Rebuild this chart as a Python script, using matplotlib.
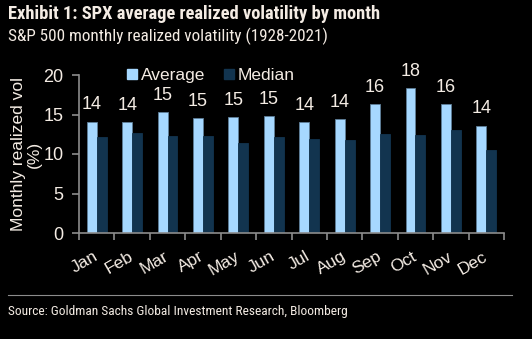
import numpy as np
import matplotlib
matplotlib.use("Agg")
import matplotlib.pyplot as plt
import matplotlib.transforms as mtrans
from matplotlib.lines import Line2D

months = ["Jan", "Feb", "Mar", "Apr", "May", "Jun",
          "Jul", "Aug", "Sep", "Oct", "Nov", "Dec"]
average = [14.1, 14.0, 15.35, 14.55, 14.7, 14.85,
           14.0, 14.45, 16.3, 18.3, 16.3, 13.6]
median = [12.2, 12.65, 12.25, 12.3, 11.4, 12.2,
          11.9, 11.75, 12.5, 12.4, 13.0, 10.5]

bg = "#000000"
txt = "#F4ECE4"
light = "#A6D8FF"
dark = "#12344F"
axcol = "#8C8C8C"
narrow = ["Liberation Sans Narrow", "Arial Narrow", "Roboto Condensed",
          "Archivo Narrow", "DejaVu Sans"]
arial = ["Liberation Sans", "Arimo", "DejaVu Sans"]

fig = plt.figure(figsize=(5.32, 3.39), dpi=100, facecolor=bg)
ax = fig.add_axes([79/532, 1-233/339, 425/532, 158/339], facecolor=bg)

x = np.arange(len(months))
w = 0.28
ax.bar(x - w/2, average, w, color=light, edgecolor="#5E7F99", linewidth=0.6)
ax.bar(x + w/2, median, w, color=dark, edgecolor=dark, linewidth=0.6)

# value labels above the average bars
for xi, v in zip(x, average):
    ax.annotate(f"{v:.0f}", (xi - w/2, v), xytext=(0, 12), textcoords="offset points",
                ha="center", va="center", color=txt, fontsize=13, family=arial)

ax.set_xlim(-0.5, len(months) - 0.5)
ax.set_ylim(0, 20)
ax.set_yticks([0, 5, 10, 15, 20])
ax.set_xticks(np.arange(len(months) + 1) - 0.5)
ax.set_xticklabels([])
ax.set_xticks(x, minor=True)
ax.set_xticklabels(months, minor=True, rotation=30, ha="right", va="center",
                   rotation_mode="anchor", color=txt, fontsize=12.5, family=arial)
shift = mtrans.ScaledTranslation(4/100, 0, fig.dpi_scale_trans)
for lab in ax.get_xticklabels(minor=True):
    lab.set_transform(lab.get_transform() + shift)
ax.tick_params(axis="x", which="minor", length=0, pad=16)
ax.tick_params(axis="x", which="major", length=5, color=axcol, width=1.2)
ax.tick_params(axis="y", length=5, color=axcol, width=1.2, labelcolor=txt,
               labelsize=13, pad=6)
for lab in ax.get_yticklabels():
    lab.set_family(arial)

for s in ["top", "right"]:
    ax.spines[s].set_visible(False)
for s in ["left", "bottom"]:
    ax.spines[s].set_color(axcol)
    ax.spines[s].set_linewidth(1.2)

ax.set_ylabel("Monthly realized vol\n(%)", color=txt, fontsize=12.5, family=arial,
              labelpad=1.5, linespacing=1.05)

handles = [Line2D([], [], marker="s", ls="", color=light, markersize=7.5),
           Line2D([], [], marker="s", ls="", color=dark, markersize=7.5)]
leg = ax.legend(handles, ["Average", "Median"], loc="center left",
                bbox_to_anchor=(0.09, 1.0), ncol=2, frameon=False, borderpad=0,
                handletextpad=0.15, columnspacing=1.0, handlelength=0.7,
                prop={"family": arial, "size": 12.5})
for t in leg.get_texts():
    t.set_color(txt)

fig.text(8/532, 1-14/339, "Exhibit 1: SPX average realized volatility by month",
         color=txt, fontsize=13.3, fontweight="bold", family=narrow, va="center")
fig.text(8/532, 1-36/339, "S&P 500 monthly realized volatility (1928-2021)",
         color=txt, fontsize=12.3, family=narrow, va="center")
fig.add_artist(Line2D([8/532, 512/532], [1-295/339, 1-295/339],
                      color="#8C8C8C", lw=0.8, transform=fig.transFigure))
fig.text(8/532, 1-312/339, "Source: Goldman Sachs Global Investment Research, Bloomberg",
         color=txt, fontsize=9.6, family=narrow, va="center")

fig.savefig("out.png", dpi=100, facecolor=bg)
